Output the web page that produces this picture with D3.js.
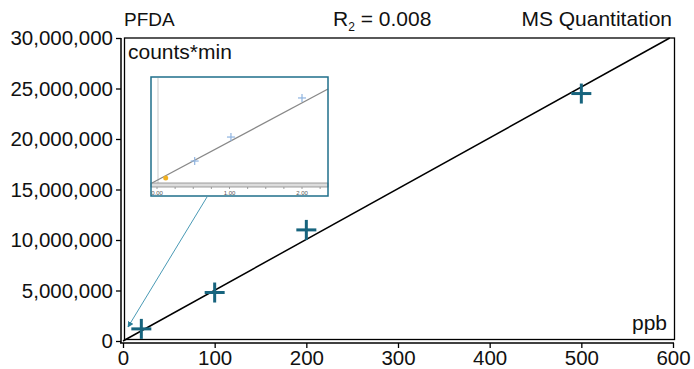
<!DOCTYPE html>
<html><head><meta charset="utf-8">
<script src="https://cdn.jsdelivr.net/npm/d3@7"></script>
<style>body{margin:0;background:#fff}svg{display:block;font-family:"Liberation Sans",Arial,sans-serif}</style>
</head><body><svg id="c" width="694" height="369"></svg>
<script>
// Data
const concentrations = [20, 100, 200, 500];
const responses = [1200000, 4800000, 11000000, 24500000];
const fitSlope = 50300;      // counts*min per ppb
const fitIntercept = 0;
const xTicks = [0, 100, 200, 300, 400, 500, 600];
const yTicks = [0, 5000000, 10000000, 15000000, 20000000, 25000000, 30000000];
const titleLeft = "PFDA", titleRight = "MS Quantitation";
const r2Text = "0.008";
// inset (zoomed low range)
const insetX = [0.12, 0.52, 1.02, 2.0];
const insetY = [0.05, 0.49, 1.11, 2.12];
const insetHighlight = [true, false, false, false];
const insetTicks = [0, 1, 2];

const svg = d3.select("#c");
const L = 123, R = 673, T = 38, B = 341;
const x = d3.scaleLinear().domain([0, 600]).range([L, R]);
const y = d3.scaleLinear().domain([0, 30000000]).range([B, T]);
const teal = "#17647e";

// frame
svg.append("rect").attr("x", L + 1.5).attr("y", T).attr("width", R - L).attr("height", B - T - 1.5)
  .attr("fill", "none").attr("stroke", "#000").attr("stroke-width", 1.3);

const fmt = d3.format(",");
const yAxis = svg.append("g").attr("transform", `translate(${L - 2},0)`)
  .call(d3.axisLeft(y).tickValues(yTicks).tickFormat(fmt).tickSizeOuter(0).tickSize(5).tickPadding(3));
const xAxis = svg.append("g").attr("transform", `translate(0,${B + 2})`)
  .call(d3.axisBottom(x).tickValues(xTicks).tickFormat(d3.format("d")).tickSizeOuter(0).tickSize(5).tickPadding(2));
[yAxis, xAxis].forEach(g => {
  g.select(".domain").attr("stroke-width", 1.5);
  g.selectAll("line").attr("stroke-width", 1.3);
  g.selectAll("text").attr("font-size", 20.5).attr("fill", "#111").attr("font-family", "Liberation Sans, Arial, sans-serif");
});
xAxis.select(".domain").attr("d", `M${L - 3},0H${R + 1}`);
yAxis.select(".domain").attr("d", `M0,${T}V${B + 2}`);

// regression line clipped at top
const xEnd = Math.min(600, (30000000 - fitIntercept) / fitSlope);
svg.append("line").attr("x1", x(0)).attr("y1", y(fitIntercept)).attr("x2", x(xEnd)).attr("y2", y(fitIntercept + fitSlope * xEnd))
  .attr("stroke", "#000").attr("stroke-width", 1.5);

// crosses
const cs = 10;
const pts = svg.append("g").attr("stroke", teal).attr("stroke-width", 3);
concentrations.forEach((c, i) => {
  const px = x(c), py = y(responses[i]);
  pts.append("line").attr("x1", px - cs).attr("x2", px + cs).attr("y1", py).attr("y2", py);
  pts.append("line").attr("x1", px).attr("x2", px).attr("y1", py - cs).attr("y2", py + cs);
});

// texts
const txt = (t, tx, ty, anchor, size) => svg.append("text").attr("x", tx).attr("y", ty).attr("text-anchor", anchor)
  .attr("font-size", size).attr("fill", "#111").text(t);
txt(titleLeft, 124, 26, "start", 19);
const r2 = svg.append("text").attr("x", 333).attr("y", 26).attr("font-size", 21).attr("fill", "#111");
r2.append("tspan").text("R");
r2.append("tspan").attr("font-size", 12).attr("dy", 5).text("2");
r2.append("tspan").attr("dy", -5).text(" = " + r2Text);
txt(titleRight, 672, 26, "end", 21);
txt("counts*min", 128, 59, "start", 21);
txt("ppb", 667, 330, "end", 21);

// inset
const IL = 151, IR = 328, IT = 77, IB = 196;
const ix = d3.scaleLinear().domain([0, 2]).range([157, 302]);
const iy = d3.scaleLinear().domain([0, 1]).range([180, 141.3]);
const ig = svg.append("g");
ig.append("rect").attr("x", IL).attr("y", IT).attr("width", IR - IL).attr("height", IB - IT).attr("fill", "#fff");
ig.append("line").attr("x1", 158).attr("x2", 158).attr("y1", IT + 1).attr("y2", 183).attr("stroke", "#ddd").attr("stroke-width", 1.5);
// inset axis band
ig.append("rect").attr("x", IL).attr("y", 183).attr("width", IR - IL).attr("height", 4).attr("fill", "#ddd").attr("stroke", "#888").attr("stroke-width", 0.8);
const minor = d3.range(0, 2.51, 0.25);
minor.forEach(v => { if (ix(v) < IR) ig.append("line").attr("x1", ix(v)).attr("x2", ix(v)).attr("y1", 187).attr("y2", 189).attr("stroke", "#888").attr("stroke-width", 0.8); });
insetTicks.forEach(v => ig.append("text").attr("x", ix(v)).attr("y", 195).attr("text-anchor", "middle").attr("font-size", 6).attr("fill", "#555").text(v.toFixed(2)));
// inset fit line
ig.append("line").attr("x1", IL + 1).attr("y1", 183).attr("x2", IR).attr("y2", 89).attr("stroke", "#888").attr("stroke-width", 1.2);
insetX.forEach((v, i) => {
  const px = ix(v), py = iy(insetY[i]);
  if (insetHighlight[i]) {
    ig.append("circle").attr("cx", px).attr("cy", py).attr("r", 2.5).attr("fill", "#f0b020");
  } else {
    ig.append("line").attr("x1", px - 4).attr("x2", px + 4).attr("y1", py).attr("y2", py).attr("stroke", "#8fb4e0").attr("stroke-width", 1.2);
    ig.append("line").attr("x1", px).attr("x2", px).attr("y1", py - 4).attr("y2", py + 4).attr("stroke", "#8fb4e0").attr("stroke-width", 1.2);
  }
});
ig.append("rect").attr("x", IL).attr("y", IT).attr("width", IR - IL).attr("height", IB - IT).attr("fill", "none").attr("stroke", "#1f6f8b").attr("stroke-width", 1.5);

// pointer line with arrow
const defs = svg.append("defs");
defs.append("marker").attr("id", "arr").attr("viewBox", "0 0 10 10").attr("refX", 9).attr("refY", 5)
  .attr("markerWidth", 6).attr("markerHeight", 6).attr("orient", "auto")
  .append("path").attr("d", "M0,0L10,5L0,10z").attr("fill", "#2a7f9a");
svg.append("line").attr("x1", 207).attr("y1", 197).attr("x2", 128).attr("y2", 327)
  .attr("stroke", "#4a9ab5").attr("stroke-width", 1).attr("marker-end", "url(#arr)");
</script></body></html>
